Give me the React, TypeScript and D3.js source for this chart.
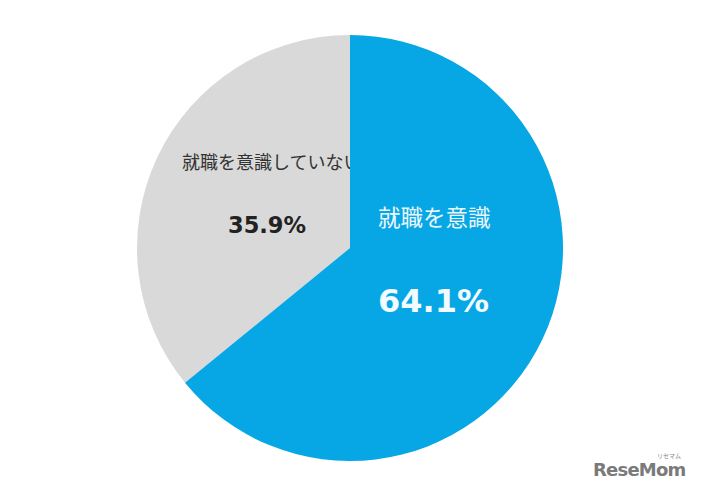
import React from "react";
import * as d3 from "d3";

const categories = ["就職を意識", "就職を意識していない"];
const values = [64.1, 35.9];
const valueLabels = ["64.1%", "35.9%"];
const colors = ["#07a6e4", "#d9d9d9"];

export default function App() {
  const W = 701, H = 492;
  const cx = 350, cy = 248, r = 213;
  const pie = d3.pie<number>().sort(null).startAngle(0).endAngle(2 * Math.PI);
  const arcs = pie(values);
  const arc = d3.arc<d3.PieArcDatum<number>>().innerRadius(0).outerRadius(r);
  const jp = "'Noto Sans CJK JP', 'Noto Sans', sans-serif";
  const num = "'DejaVu Sans', Verdana, sans-serif";
  return (
    <svg width={W} height={H} style={{ position: "absolute", left: 0, top: 0, background: "#fff" }}>
      <g transform={`translate(${cx},${cy})`}>
        <path d={arc(arcs[1]) || ""} fill={colors[1]} />
      </g>
      <text x={182} y={169} fontFamily={jp} fontSize={18} fill="#333">{categories[1]}</text>
      <text x={228} y={233} fontFamily={num} fontWeight="bold" fontSize={22.5} fill="#222">{valueLabels[1]}</text>
      <g transform={`translate(${cx},${cy})`}>
        <path d={arc(arcs[0]) || ""} fill={colors[0]} />
      </g>
      <text x={378} y={226} fontFamily={jp} fontSize={22.5} fill="#eaf7fd">{categories[0]}</text>
      <text x={378} y={312} fontFamily={num} fontWeight="bold" fontSize={32} fill="#f2fbff">{valueLabels[0]}</text>
      <text x={657} y={458} fontFamily={jp} fontSize={6} fill="#888">リセマム</text>
      <text x={593} y={476} fontFamily={num} fontWeight="bold" fontSize={18} fill="#7a7a7a" letterSpacing={-0.8}>ReseMom</text>
    </svg>
  );
}
